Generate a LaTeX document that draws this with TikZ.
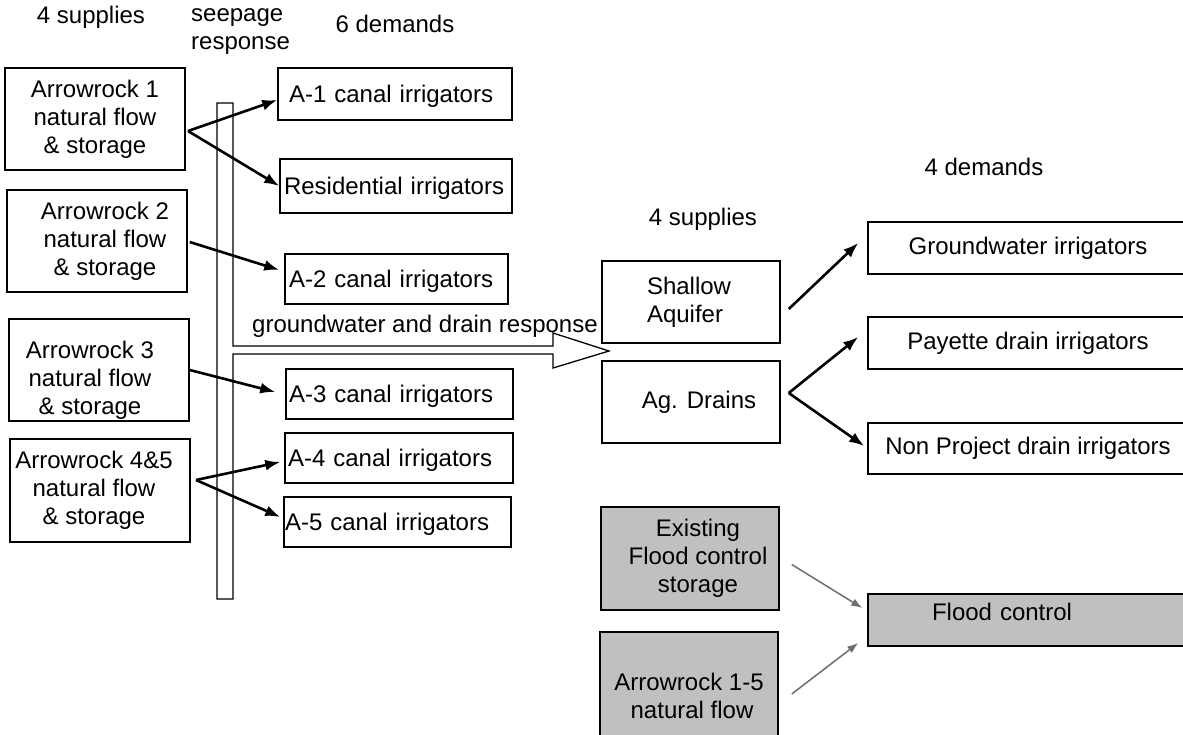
\documentclass[tikz,border=0pt]{standalone}
\usepackage{fontspec}
\setmainfont{Liberation Sans}
\usetikzlibrary{arrows.meta}
\definecolor{boxgray}{HTML}{C0C0C0}
\definecolor{arrowgray}{HTML}{6E6E6E}
\begin{document}
\begin{tikzpicture}[x=1pt,y=-1pt,
  every node/.style={font=\fontsize{24}{28}\selectfont, inner sep=0pt},
  box/.style={draw, line width=1.5pt, fill=white, align=center},
  graybox/.style={box, fill=boxgray},
  dem/.style={draw, line width=1.5pt, fill=white, align=left, text height=17.5pt, text depth=0pt},
  flow/.style={line width=2.6pt, -{Latex[length=15pt,width=11pt]}},
  gflow/.style={line width=1.5pt, draw=arrowgray, -{Latex[length=11pt,width=8pt]}, color=arrowgray},
  hdr/.style={anchor=base}
]
\useasboundingbox (0,0) rectangle (1183,734);
\fill[white] (0,0) rectangle (1183,734);
\clip (0,0) rectangle (1183,734);

% headers
\node[hdr] (h1) at (91,23) {4 supplies};
\node[anchor=base west, align=left] (h2) at (191,49) {seepage\\response};
\node[hdr] (h3) at (395,32) {6 demands};
\node[hdr] (h4) at (703,225) {4 supplies};
\node[hdr] (h5) at (984,175) {4 demands};

% seepage bar with groundwater arrow
\draw[line width=1.3pt, fill=white] (217,103) -- (233,103) -- (233,346) -- (553,346) -- (553,333)
  -- (609,351) -- (553,368) -- (553,354) -- (233,354) -- (233,599) -- (217,599) -- cycle;
\node[anchor=base west] (gdr) at (252,332) {groundwater and drain response};

% supplies
\node[box, minimum width=180pt, minimum height=102pt] (ar1) at (95,119) {Arrowrock 1\\natural flow\\\& storage};
\node[box, minimum width=180pt, minimum height=102pt] (ar2) at (97,241) {\hspace*{16pt}Arrowrock 2\\\hspace*{16pt}natural flow\\\hspace*{16pt}\& storage};
\node[box, minimum width=180pt, minimum height=102pt] (ar3) at (99,370) {\rule{0pt}{37.5pt}\hspace*{-18pt}Arrowrock 3\\\hspace*{-18pt}natural flow\\\hspace*{-18pt}\& storage};
\node[box, minimum width=180pt, minimum height=103pt] (ar45) at (100,490.5) {\hspace*{-12pt}Arrowrock 4\&5\\\hspace*{-12pt}natural flow\\\hspace*{-12pt}\& storage};

% demands
\node[dem, minimum height=52pt, text width=212pt, inner xsep=11pt] (a1) at (395,94) {A-1 canal irrigators};
\node[dem, minimum height=54pt, text width=224pt, inner xsep=4pt] (res) at (396,186) {Residential irrigators};
\node[dem, minimum height=50pt, text width=215pt, inner xsep=4pt] (a2) at (396.5,279) {A-2 canal irrigators};
\node[dem, minimum height=50pt, text width=221pt, inner xsep=3pt] (a3) at (399.5,394) {A-3 canal irrigators};
\node[dem, minimum height=50pt, text width=222pt, inner xsep=3pt] (a4) at (399,458) {A-4 canal irrigators};
\node[dem, minimum height=50pt, text width=225pt, inner xsep=1pt] (a5) at (397.5,522) {A-5 canal irrigators};

% right supplies
\node[box, minimum width=178pt, minimum height=82pt, align=left, text width=88pt, inner xsep=45pt] (sa) at (691,302) {Shallow\\Aquifer};
\node[box, minimum width=178pt, minimum height=82pt] (ag) at (691,402) {\hspace*{16pt}Ag. Drains};

% right demands
\node[box, minimum width=320pt, minimum height=52pt] (gw) at (1028,248) {Groundwater irrigators};
\node[box, minimum width=320pt, minimum height=52pt] (pay) at (1028,343) {Payette drain irrigators};
\node[box, minimum width=320pt, minimum height=51pt] (np) at (1028,448.5) {Non Project drain irrigators};

% flood control
\node[graybox, minimum width=178pt, minimum height=103pt] (efc) at (690,558.5) {\hspace*{16pt}Existing\\\hspace*{16pt}Flood control\\\hspace*{16pt}storage};
\node[graybox, minimum width=178pt, minimum height=128pt] (ar15) at (689,696) {Arrowrock 1-5\\\hspace*{6pt}natural flow};
\node[graybox, minimum height=52pt, align=left, text width=192pt, inner xsep=64pt, text height=0pt, text depth=0pt] (fc) at (1028,620) {Flood control};

% connectors
\coordinate (f1) at (188,131);
\coordinate (f4) at (196,480);
\draw[flow] (f1) -- ([yshift=-6pt]a1.west);
\draw[flow] (f1) -- (res.west);
\draw[flow] ([xshift=2pt,yshift=-1pt]ar2.east) -- ([xshift=-5pt,yshift=9pt]a2.west);
\draw[flow] (ar3.east) -- ([xshift=-10pt,yshift=2pt]a3.west);
\draw[flow] (f4) -- ([xshift=-4pt,yshift=-4pt]a4.west);
\draw[flow] (f4) -- ([xshift=-3pt,yshift=5pt]a5.west);

\draw[flow] ([xshift=8pt,yshift=-7pt]sa.east) -- ([xshift=-9pt,yshift=5pt]gw.west);
\draw[flow] ([xshift=8pt,yshift=9pt]ag.east) -- ([xshift=-9pt,yshift=6pt]pay.west);
\draw[flow] ([xshift=8pt,yshift=9pt]ag.east) -- ([xshift=-3pt,yshift=2.5pt]np.west);

\draw[gflow] ([xshift=12pt,yshift=-6pt]efc.east) -- ([xshift=-5pt,yshift=12pt]fc.west);
\draw[gflow] ([xshift=13pt,yshift=2pt]ar15.east) -- ([xshift=-9pt,yshift=-23pt]fc.west);
\end{tikzpicture}
\end{document}
